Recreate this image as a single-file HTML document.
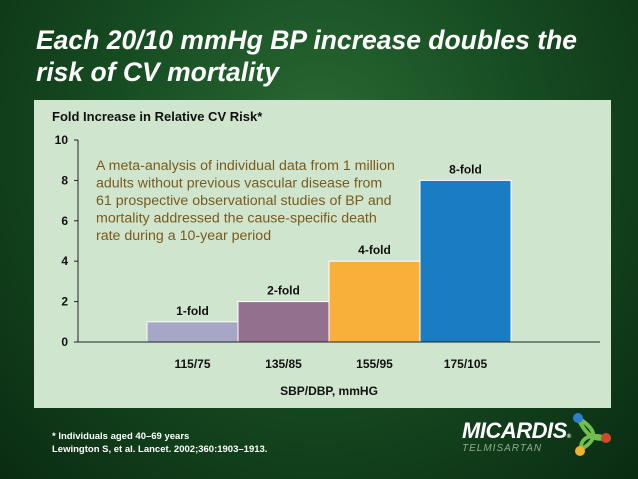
<!DOCTYPE html>
<html><head><meta charset="utf-8"><style>
body{margin:0;width:638px;height:479px;overflow:hidden;font-family:"Liberation Sans",sans-serif;}
#bg{position:absolute;left:0;top:0;width:638px;height:479px;background:radial-gradient(ellipse at 50% 30%,#2a6a34 0%,#174d22 45%,#0a2c12 100%);}
.t{position:absolute;color:#fff;font-weight:bold;font-style:italic;font-size:26.5px;left:36px;}
#panel{position:absolute;left:34px;top:100px;width:577px;height:308px;background:#cfe5cd;}
.fn{position:absolute;color:#fff;font-weight:bold;font-size:9.5px;left:52px;}
</style></head><body>
<div id="bg"></div>
<div class="t" style="top:25px">Each 20/10 mmHg BP increase doubles the</div>
<div class="t" style="top:57px">risk of CV mortality</div>
<div id="panel"></div>
<svg id="chart" width="638" height="479" style="position:absolute;left:0;top:0"></svg>
<div class="fn" style="top:431px">* Individuals aged 40–69 years</div>
<div class="fn" style="top:444px">Lewington S, et al. Lancet. 2002;360:1903–1913.</div>
<div style="position:absolute;left:462px;top:418px;color:#fff;font-weight:bold;font-style:italic;font-size:22px;letter-spacing:-0.5px">MICARDIS<span style="font-size:6px">®</span></div>
<div style="position:absolute;left:462px;top:443px;color:#8fae8f;font-style:italic;font-size:10px;letter-spacing:1px">TELMISARTAN</div>
<svg width="50" height="50" style="position:absolute;left:568px;top:410px">
<path d="M10,8 C30,20 30,30 12,40 M38,28 C20,22 10,30 14,42 M10,8 C20,30 30,30 38,28" stroke="#6fbf4a" stroke-width="4" fill="none"/>
<circle cx="10" cy="8" r="5" fill="#2a7fd0"/><circle cx="38" cy="28" r="5" fill="#d04a2a"/><circle cx="12" cy="41" r="5" fill="#f0b030"/></svg>
<script>
const categories=["115/75","135/85","155/95","175/105"];
const values=[1,2,4,8];
const labels=["1-fold","2-fold","4-fold","8-fold"];
const yTicks=[0,2,4,6,8,10];
const colors=["#a6a6c6","#94708f","#f8b03a","#1a7dc4"];
const svg=document.getElementById('chart');
const NS="http://www.w3.org/2000/svg";
const y=v=>342-v*20.2;
const x=i=>147+i*91;
function mk(tag,attrs,text){const e=document.createElementNS(NS,tag);for(const k in attrs)e.setAttribute(k,attrs[k]);if(text!==undefined)e.textContent=text;svg.appendChild(e);return e;}
let e=mk('text',{x:52,y:121,'font-size':13,'font-weight':'bold',fill:'#111'},'Fold Increase in Relative CV Risk*');


e=mk('line',{x1:78,y1:y(0),x2:78,y2:y(10),stroke:'#222','stroke-width':1});


yTicks.forEach(t=>{
 e=mk('line',{x1:74,y1:y(t),x2:78,y2:y(t),stroke:'#222'});
 
 
 e=mk('text',{x:68,y:y(t)+4,'font-size':12,'font-weight':'bold','text-anchor':'end',fill:'#111'},t);
 
 
});
values.forEach((v,i)=>{
 e=mk('rect',{x:x(i),y:y(v),width:91,height:y(0)-y(v),fill:colors[i],stroke:'#fff','stroke-width':1});
 
 
 e=mk('text',{x:x(i)+45.5,y:y(v)-7,'font-size':12,'font-weight':'bold','text-anchor':'middle',fill:'#111'},labels[i]);
 
 
 e=mk('text',{x:x(i)+45.5,y:368,'font-size':12,'font-weight':'bold','text-anchor':'middle',fill:'#111'},categories[i]);
 
 
});
e=mk('line',{x1:78,y1:y(0),x2:600,y2:y(0),stroke:'#222'});


e=mk('text',{x:329,y:395,'font-size':12,'font-weight':'bold','text-anchor':'middle',fill:'#111'},'SBP/DBP, mmHG');


["A meta-analysis of individual data from 1 million","adults without previous vascular disease from","61 prospective observational studies of BP and","mortality addressed the cause-specific death","rate during a 10-year period"].forEach((l,i)=>{
 e=mk('text',{x:96,y:170+i*17.5,'font-size':14.2,fill:'#7a5a1e'},l);
 
 
});
</script>
</body></html>
